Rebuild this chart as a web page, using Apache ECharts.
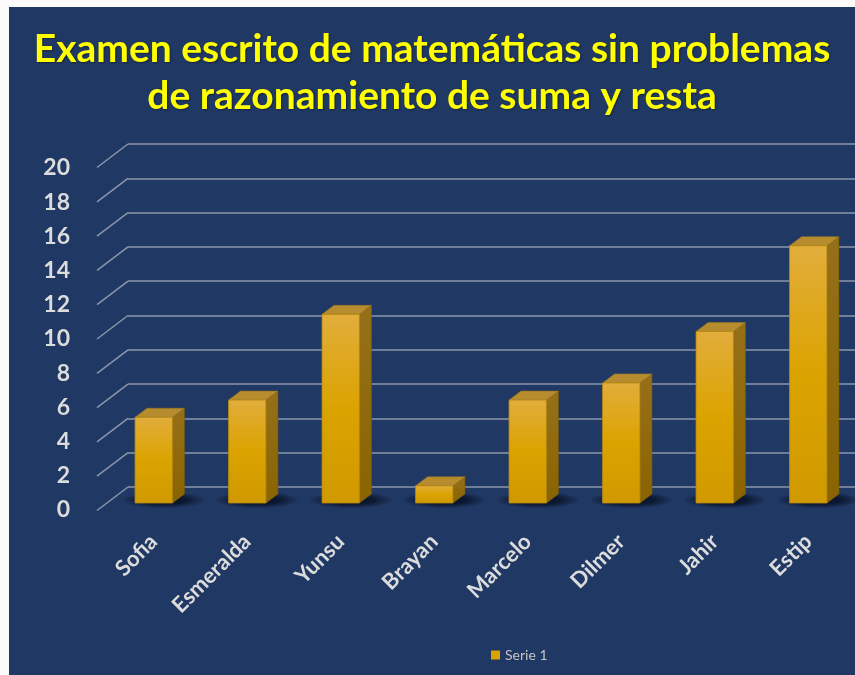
<!DOCTYPE html>
<html>
<head>
<meta charset="utf-8">
<script src="https://cdn.jsdelivr.net/npm/echarts@6/dist/echarts.min.js"></script>
<style>
  html, body { margin: 0; padding: 0; background: #fbfbfb; }
  #chart { position: absolute; left: 9px; top: 7px; width: 846px; height: 668px; }
</style>
</head>
<body>
<div id="chart"></div>
<script>
// Scores per student
const students = ['Sofia', 'Esmeralda', 'Yunsu', 'Brayan', 'Marcelo', 'Dilmer', 'Jahir', 'Estip'];
const scores = [5, 6, 11, 1, 6, 7, 10, 15];
const seriesName = 'Serie 1';
const yTicks = [0, 2, 4, 6, 8, 10, 12, 14, 16, 18, 20];

const FONT = 'Lato, "Open Sans", sans-serif';
const DEPTH_X = 12, DEPTH_Y = -9;     // bar depth offset (pseudo 3D)
const WALL_X = -31, WALL_Y = 23.5;    // floor diagonal from wall to front

const chart = echarts.init(document.getElementById('chart'));

chart.setOption({
  backgroundColor: '#203864',
  animation: false,
  title: {
    text: 'Examen escrito de matemáticas sin problemas\nde razonamiento de suma y resta',
    left: 'center',
    top: 14,
    textStyle: {
      color: '#FFFF00',
      fontFamily: FONT,
      fontWeight: 'bold',
      fontSize: 39,
      lineHeight: 47,
      textShadowColor: 'rgba(0,0,0,0.35)',
      textShadowBlur: 2,
      textShadowOffsetX: 1,
      textShadowOffsetY: 1
    }
  },
  legend: {
    bottom: 8,
    left: 477,
    icon: 'rect',
    itemWidth: 9,
    itemHeight: 9,
    itemGap: 6,
    textStyle: { color: '#c4c4c4', fontSize: 14, fontFamily: FONT },
    data: [seriesName]
  },
  grid: [
    // back wall with gridlines
    { left: 119, top: 137, height: 343, right: 0 },
    // front edge carrying the value labels
    { left: 88, top: 161, height: 342, width: 10 },
    // bars
    { left: 98, top: 153, height: 343, width: 755 }
  ],
  xAxis: [
    { gridIndex: 0, type: 'value', min: 0, max: 1, show: false },
    { gridIndex: 1, type: 'value', min: 0, max: 1, show: false },
    {
      gridIndex: 2, type: 'category', data: students,
      axisLine: { show: false }, axisTick: { show: false },
      axisLabel: {
        rotate: 45, margin: 35, color: '#dcdcdc',
        fontFamily: FONT, fontSize: 22, fontWeight: 'bold', interval: 0
      }
    }
  ],
  yAxis: [
    {
      gridIndex: 0, type: 'value', min: 0, max: 20, interval: 2,
      axisLine: { show: false }, axisTick: { show: false }, axisLabel: { show: false },
      splitLine: { lineStyle: { color: '#8c96ab', width: 1.5 } }
    },
    {
      gridIndex: 1, type: 'value', min: 0, max: 20, interval: 2,
      axisLine: { show: false }, axisTick: { show: false }, splitLine: { show: false },
      axisLabel: { color: '#dcdcdc', fontFamily: FONT, fontSize: 23, fontWeight: 'bold', margin: 27 }
    },
    { gridIndex: 2, type: 'value', min: 0, max: 20, show: false }
  ],
  series: [
    {
      // floor diagonals linking the wall gridlines to the front edge
      type: 'custom',
      xAxisIndex: 0, yAxisIndex: 0,
      silent: true,
      data: yTicks,
      renderItem: function (params, api) {
        const p = api.coord([0, api.value(0)]);
        return {
          type: 'line',
          shape: { x1: p[0] + WALL_X, y1: p[1] + WALL_Y, x2: p[0], y2: p[1] },
          style: { stroke: '#8c96ab', lineWidth: 1.5 }
        };
      },
      encode: { y: 0 }
    },
    {
      name: seriesName,
      type: 'custom',
      xAxisIndex: 2, yAxisIndex: 2,
      itemStyle: { color: '#DBA300' },
      data: scores.map((v, i) => [i, v]),
      encode: { x: 0, y: 1 },
      renderItem: function (params, api) {
        const i = api.value(0), v = api.value(1);
        const base = api.coord([i, 0]);
        const top = api.coord([i, v]);
        const band = api.size([1, 0])[0];
        const w = band * 0.4;
        const x0 = base[0] - w / 2, x1 = base[0] + w / 2;
        const yb = base[1], yt = top[1];
        const dx = DEPTH_X, dy = DEPTH_Y;
        return {
          type: 'group',
          children: [
            {
              // soft floor shadow
              type: 'circle',
              shape: { cx: base[0] + 10, cy: yb - 3, r: 42 },
              scaleY: 0.2,
              originX: base[0] + 10, originY: yb - 3,
              style: {
                fill: new echarts.graphic.RadialGradient(0.5, 0.5, 0.5, [
                  { offset: 0, color: 'rgba(5,12,30,0.95)' },
                  { offset: 0.55, color: 'rgba(5,12,30,0.7)' },
                  { offset: 1, color: 'rgba(5,12,30,0)' }
                ])
              },
              silent: true
            },
            {
              // side face
              type: 'polygon',
              shape: { points: [[x1, yb], [x1 + dx, yb + dy], [x1 + dx, yt + dy], [x1, yt]] },
              style: {
                fill: new echarts.graphic.LinearGradient(0, 0, 0, 1, [
                  { offset: 0, color: '#957019' },
                  { offset: 1, color: '#8a6400' }
                ]),
                stroke: '#7a5a0c', lineWidth: 0.6
              }
            },
            {
              // top face
              type: 'polygon',
              shape: { points: [[x0, yt], [x1, yt], [x1 + dx, yt + dy], [x0 + dx, yt + dy]] },
              style: { fill: '#B68C2E', stroke: '#9c7620', lineWidth: 0.6 }
            },
            {
              // front face
              type: 'rect',
              shape: { x: x0, y: yt, width: w, height: yb - yt },
              style: {
                fill: new echarts.graphic.LinearGradient(0, 0, 0, 1, [
                  { offset: 0, color: '#E2AD3C' },
                  { offset: 0.5, color: '#DBA300' },
                  { offset: 1, color: '#D09900' }
                ]),
                stroke: '#B88A10', lineWidth: 0.8
              }
            }
          ]
        };
      }
    }
  ]
});
</script>
</body>
</html>
